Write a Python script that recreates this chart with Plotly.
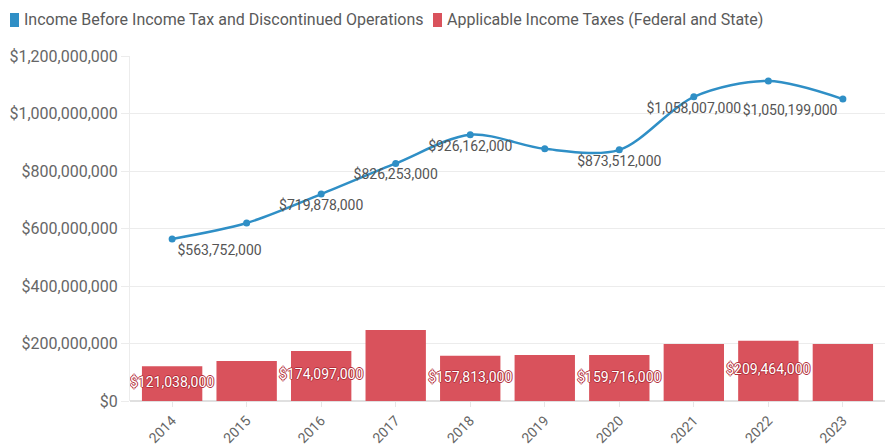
import plotly.graph_objects as go

years = ["2014", "2015", "2016", "2017", "2018", "2019", "2020", "2021", "2022", "2023"]
income_before_tax = [563752000, 619000000, 719878000, 826253000, 926162000, 877000000,
                     873512000, 1058007000, 1113000000, 1050199000]
income_taxes = [121038000, 139000000, 174097000, 247000000, 157813000, 160000000,
                159716000, 198000000, 209464000, 198000000]
line_label_years = ["2014", "2016", "2017", "2018", "2020", "2021", "2023"]
bar_label_years = ["2014", "2016", "2018", "2020", "2022"]
series_names = ["Income Before Income Tax and Discontinued Operations",
                "Applicable Income Taxes (Federal and State)"]

BLUE = "#2f8fc6"
RED = "#d9525c"
FONT = "Roboto"

# plot area in pixels (for legend placement only)
L, R, T, B = 130, 5, 56, 46
W, H = 890, 447
PW, PH = W - L - R, H - T - B

def px_x(px):
    return (px - L) / PW

def px_y(py):
    return (H - B - py) / PH

def money(v):
    return "${:,.0f}".format(v)

line_text = [money(v) if y in line_label_years else "" for y, v in zip(years, income_before_tax)]
line_pos = []
for i, y in enumerate(years):
    if i == 0:
        line_pos.append("bottom right")
    elif i == len(years) - 1:
        line_pos.append("bottom left")
    else:
        line_pos.append("bottom center")

bar_text = [money(v) if y in bar_label_years else "" for y, v in zip(years, income_taxes)]
bar_mid = [v / 2 for v in income_taxes]

fig = go.Figure()

fig.add_trace(go.Bar(
    x=years, y=income_taxes, marker=dict(color=RED, line=dict(width=0)),
    name=series_names[1], showlegend=False, hoverinfo="skip",
))

outline = "#b3303b"
fig.add_trace(go.Scatter(
    x=years, y=bar_mid, mode="text", text=bar_text, textposition="middle center",
    textfont=dict(family=FONT, size=14, color="white",
                  shadow=f"1px 0 0 {outline}, -1px 0 0 {outline}, 0 1px 0 {outline}, 0 -1px 0 {outline}"),
    showlegend=False, cliponaxis=True, hoverinfo="skip",
))

fig.add_trace(go.Scatter(
    x=years, y=income_before_tax, mode="lines+markers+text",
    line=dict(color=BLUE, width=2.5, shape="spline", smoothing=0.9),
    marker=dict(color=BLUE, size=7),
    text=line_text, textposition=line_pos,
    textfont=dict(family=FONT, size=14, color="#555555"),
    name=series_names[0], showlegend=False, cliponaxis=False,
))

# custom legend: swatches + labels
legend_items = [(BLUE, series_names[0], 10), (RED, series_names[1], 433)]
for color, name, x0 in legend_items:
    fig.add_shape(type="rect", xref="paper", yref="paper",
                  x0=px_x(x0), x1=px_x(x0 + 9), y0=px_y(27), y1=px_y(13),
                  fillcolor=color, line=dict(width=0), layer="above")
    fig.add_annotation(xref="paper", yref="paper", x=px_x(x0 + 12), y=px_y(20),
                       xanchor="left", yanchor="middle", showarrow=False,
                       text=name, font=dict(family=FONT, size=16, color="#5a5a5a"))

fig.update_layout(
    width=W, height=H,
    margin=dict(l=L, r=R, t=T, b=B, autoexpand=False),
    paper_bgcolor="white", plot_bgcolor="white",
    font=dict(family=FONT, size=13, color="#666666"),
    bargap=0.19, showlegend=False,
)

fig.update_xaxes(
    type="category", tickangle=-45, showgrid=False, automargin=False,
    ticks="outside", ticklen=5, tickcolor="#e6e6e6",
    tickfont=dict(family=FONT, size=14, color="#666666"),
    showline=False, zeroline=False,
)
fig.update_yaxes(
    range=[0, 1200000000], dtick=200000000, tickprefix="$", tickformat=",d",
    automargin=False,
    showgrid=True, gridcolor="#ececec", gridwidth=1,
    ticks="outside", ticklen=8, tickcolor="#ececec",
    showline=True, linecolor="#ececec", linewidth=1,
    zeroline=True, zerolinecolor="#e0e0e0",
    tickfont=dict(family=FONT, size=16, color="#666666"),
)

fig.write_html("out.html",
               config={"displayModeBar": False},
               post_script="document.body.style.margin='0';document.body.style.overflow='hidden';")
